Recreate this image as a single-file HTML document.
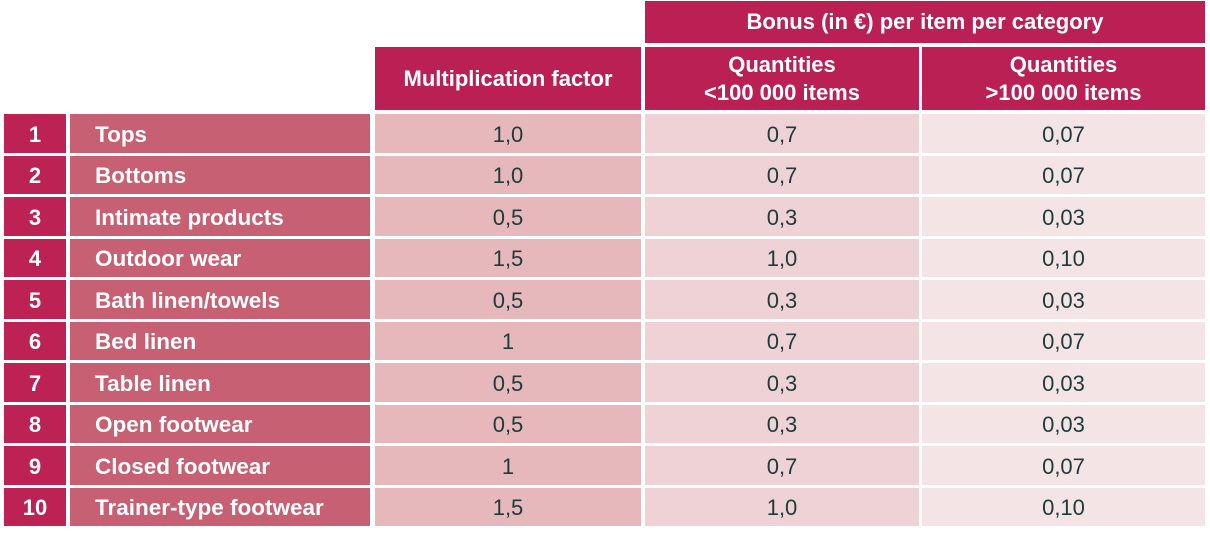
<!DOCTYPE html>
<html><head><meta charset="utf-8">
<style>
body{margin:0;width:1210px;height:533px;background:#fff;position:relative;overflow:hidden;font-family:"Liberation Sans",sans-serif}
.c{position:absolute;box-sizing:border-box;display:flex;align-items:center;font-size:22px}
.h{background:#BA2054;color:#fff;font-weight:bold;justify-content:center;text-align:center;line-height:28px;font-size:22px}
.num{background:#BD2255;color:#fff;font-weight:bold;justify-content:center;font-size:22px;padding-top:3px}
.nm{background:#C66072;color:#fff;font-weight:bold;padding-left:25px;font-size:22.5px;padding-top:3px}
.v{justify-content:center;color:#1d3b3b;padding-top:3px}
</style></head><body>
<div class="c h" style="left:645px;top:1px;width:560px;height:42px">Bonus (in €) per item per category</div>
<div class="c h" style="left:375px;top:47px;width:266px;height:63px">Multiplication factor</div>
<div class="c h" style="left:645px;top:47px;width:274px;height:63px">Quantities<br>&lt;100 000 items</div>
<div class="c h" style="left:922px;top:47px;width:283px;height:63px">Quantities<br>&gt;100 000 items</div>
<script>
const categories=["Tops","Bottoms","Intimate products","Outdoor wear","Bath linen/towels","Bed linen","Table linen","Open footwear","Closed footwear","Trainer-type footwear"];
const factors=["1,0","1,0","0,5","1,5","0,5","1","0,5","0,5","1","1,5"];
const bonusLow=["0,7","0,7","0,3","1,0","0,3","0,7","0,3","0,3","0,7","1,0"];
const bonusHigh=["0,07","0,07","0,03","0,10","0,03","0,07","0,03","0,03","0,07","0,10"];
const pitch=41.5, top0=114, rh=38.5;
function cell(cls,x,y,w,txt,bg){
  const d=document.createElement('div');
  d.className='c '+cls;
  d.style.left=x+'px';d.style.top=y+'px';d.style.width=w+'px';d.style.height=rh+'px';
  if(bg)d.style.background=bg;
  d.textContent=txt;
  document.body.appendChild(d);
  return d;
}
categories.forEach((cat,i)=>{
  const y=top0+i*pitch;
  let e=cell('num',4,y,62,String(i+1));
  
  
  e=cell('nm',70,y,300,cat);
  
  
  e=cell('v',375,y,266,factors[i],'#E6B8BC');
  
  
  e=cell('v',645,y,274,bonusLow[i],'#EFD2D5');
  
  
  e=cell('v',922,y,283,bonusHigh[i],'#F5E4E6');
  
  
});
</script>
</body></html>
